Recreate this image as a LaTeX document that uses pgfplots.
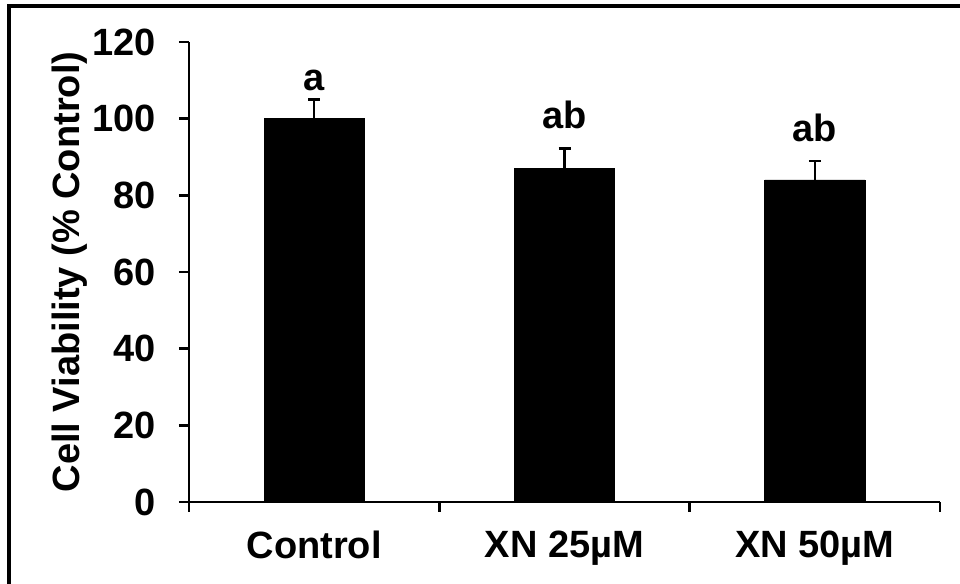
\documentclass[border=0pt]{standalone}
\usepackage{fontspec}
\setmainfont{Liberation Sans}
\usepackage{pgfplots}
\pgfplotsset{compat=1.18}
\newcommand{\bigf}{\bfseries\fontsize{19}{22}\selectfont}
\begin{document}
\begin{tikzpicture}[x=1pt,y=1pt]
\useasboundingbox (0,0) rectangle (480,292);
\draw[line width=2pt] (4.5,0) -- (4.5,288.75) -- (480,288.75);
\begin{axis}[
  at={(94.5pt,41pt)}, anchor=south west,
  scale only axis, width=375.5pt, height=230pt,
  xmin=-0.5, xmax=2.5, ymin=0, ymax=120,
  axis x line*=bottom, axis y line*=left,
  ytick={0,20,...,120},
  xtick={-0.5,0.5,1.5,2.5}, xticklabels={},
  extra x ticks={0,1,2},
  extra x tick labels={Control, XN 25µM, XN 50µM},
  extra x tick style={major tick length=0pt},
  tick align=outside, major tick length=5pt,
  every tick/.style={black, line width=1.3pt},
  axis line style={line width=1.3pt},
  /pgf/number format/assume math mode=true,
  ticklabel style={font=\bigf},
  yticklabel style={xshift=-8pt},
  xticklabel style={yshift=-11pt},
  ylabel={Cell Viability (\% Control)},
  ylabel style={font=\bigf, at={(axis description cs:0,0.5)}, yshift=59.5pt, anchor=center},
  clip=false,
]
\addplot[ybar, bar width=0.4, fill=black, draw=black,
  error bars/.cd, y dir=plus, y explicit,
  error bar style={line width=1.3pt, black},
  error mark options={rotate=90, mark size=3pt, line width=1.3pt, black}]
  coordinates {(0,100) +- (0,5) (1,87) +- (0,5.2) (2,84) +- (0,5)};
\node[font=\bigf] at (axis cs:0,110) {a};
\node[font=\bigf] at (axis cs:1,101) {ab};
\node[font=\bigf] at (axis cs:2,97.6) {ab};
\end{axis}
\end{tikzpicture}
\end{document}
